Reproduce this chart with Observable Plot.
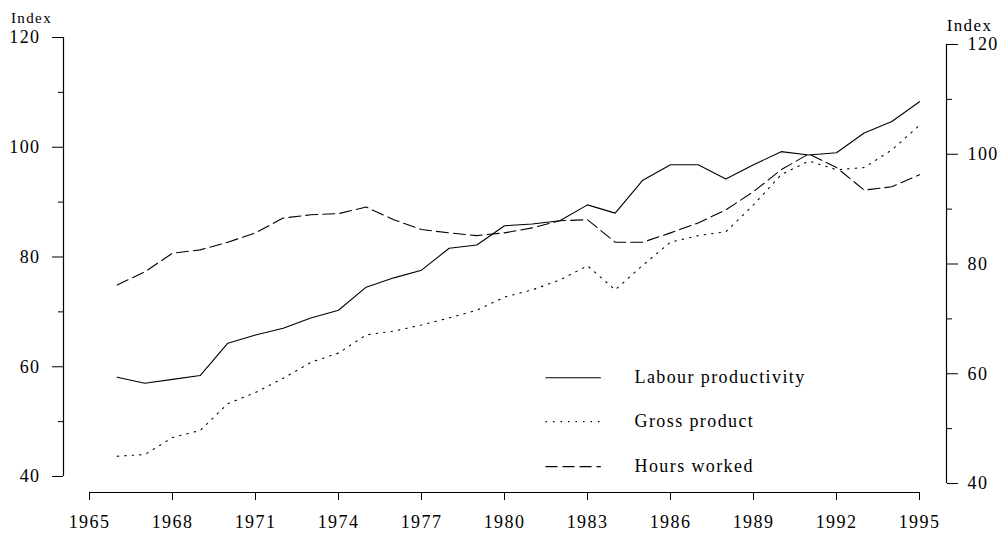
<!DOCTYPE html>
<html>
<head>
<meta charset="utf-8">
<script src="https://cdn.jsdelivr.net/npm/d3@7"></script>
<script src="https://cdn.jsdelivr.net/npm/@observablehq/plot@0.6"></script>
<style>
  html, body { margin: 0; padding: 0; background: #fff; }
  #chart { width: 1005px; height: 540px; overflow: hidden; }
</style>
</head>
<body>
<div id="chart"></div>
<script>
// ---- Data ----
const years = [1966,1967,1968,1969,1970,1971,1972,1973,1974,1975,1976,1977,1978,1979,1980,
               1981,1982,1983,1984,1985,1986,1987,1988,1989,1990,1991,1992,1993,1994,1995];
const labourProductivity = [58.1,57.0,57.7,58.4,64.3,65.8,67.0,68.9,70.3,74.5,76.2,77.6,81.6,82.2,85.7,
                            86.0,86.6,89.5,88.0,94.0,96.8,96.8,94.2,96.8,99.2,98.6,99.0,102.6,104.7,108.3];
const grossProduct = [43.7,44.0,47.1,48.4,53.3,55.3,57.9,60.8,62.5,65.8,66.5,67.6,68.9,70.3,72.7,
                      74.0,75.8,78.4,74.0,78.5,82.7,83.9,84.6,89.5,95.0,97.5,95.9,96.3,99.5,104.0];
const hoursWorked = [74.9,77.3,80.7,81.3,82.7,84.4,87.1,87.7,87.9,89.1,86.8,85.0,84.4,83.9,84.4,
                     85.3,86.6,86.8,82.7,82.7,84.4,86.2,88.6,91.9,95.9,98.8,96.3,92.2,92.8,95.0];
const seriesNames = ["Labour productivity", "Gross product", "Hours worked"];
const xTicks = [1965,1968,1971,1974,1977,1980,1983,1986,1989,1992,1995];
const yTicks = [40,60,80,100,120];
const yMinorTicks = [50,70,90,110];

// ---- Styling / layout ----
const dashes = [null, "1.5,6", "12,5"];
const seriesValues = [labourProductivity, grossProduct, hoursWorked];
const legendX1 = 1981.5, legendX2 = 1983.5, legendTextX = 1984.7;
const legendY = [58.0, 50.0, 41.8];

const lineMarks = seriesValues.map((vals, k) =>
  Plot.line(years.map((yr, i) => ({year: yr, value: vals[i]})), {
    x: "year", y: "value", stroke: "black", strokeWidth: 1.1,
    strokeDasharray: dashes[k]
  })
);

const legendRows = seriesNames.map((name, k) => ({name, y: legendY[k], x1: legendX1, x2: legendX2, xt: legendTextX, k}));
const legendMarks = legendRows.map(r =>
  Plot.ruleY([r], {y: "y", x1: "x1", x2: "x2", stroke: "black", strokeWidth: 1.1, strokeDasharray: dashes[r.k]})
);

const chart = Plot.plot({
  width: 1005,
  height: 540,
  marginLeft: 63,
  marginRight: 59,
  marginTop: 37,
  marginBottom: 64,
  x: {domain: [1965, 1995], insetLeft: 26, insetRight: 27},
  y: {domain: [40, 120]},
  style: {fontFamily: "'Liberation Serif', 'DejaVu Serif', serif", fontSize: "18px", letterSpacing: "1.4px", color: "black", background: "white"},
  marks: [
    // left axis
    Plot.ruleX([{x: 1965, y1: 40, y2: 120}], {x: "x", y1: "y1", y2: "y2", dx: -26, stroke: "black", strokeWidth: 1.2}),
    Plot.axisY({anchor: "left", ticks: yTicks, tickSize: 11, tickPadding: 12, label: null, tickFormat: d => String(d), stroke: "black"}),
    Plot.axisY({anchor: "left", ticks: yMinorTicks, tickSize: 5, tickPadding: 0, label: null, tickFormat: () => "", stroke: "black"}),
    // right axis
    Plot.ruleX([{x: 1995, y1: 40, y2: 120}], {x: "x", y1: "y1", y2: "y2", dx: 27, dy: 7, stroke: "black", strokeWidth: 1.2}),
    Plot.axisY({anchor: "right", ticks: yTicks, tickSize: 11, tickPadding: 10, dy: 7, label: null, tickFormat: d => String(d), stroke: "black"}),
    Plot.axisY({anchor: "right", ticks: yMinorTicks, tickSize: 5, tickPadding: 0, dy: 7, label: null, tickFormat: () => "", stroke: "black"}),
    // x axis
    Plot.ruleY([{y: 40, x1: 1965, x2: 1995}], {y: "y", x1: "x1", x2: "x2", dy: 16, stroke: "black", strokeWidth: 1.2}),
    Plot.axisX({ticks: xTicks, tickSize: 8, tickPadding: 15, dy: 16, label: null, tickFormat: d => String(d), stroke: "black"}),
    // axis titles
    Plot.text(["Index"], {frameAnchor: "top-left", dx: -32, dy: -25, textAnchor: "middle", fontSize: 15, style: {letterSpacing: "0.3px"}}),
    Plot.text(["Index"], {frameAnchor: "top-right", dx: 23, dy: -19, textAnchor: "middle", fontSize: 17}),
    // series
    ...lineMarks,
    // legend
    ...legendMarks,
    Plot.text(legendRows, {x: "xt", y: "y", text: "name", textAnchor: "start", fill: "black"})
  ]
});
document.getElementById("chart").appendChild(chart);
</script>
</body>
</html>
